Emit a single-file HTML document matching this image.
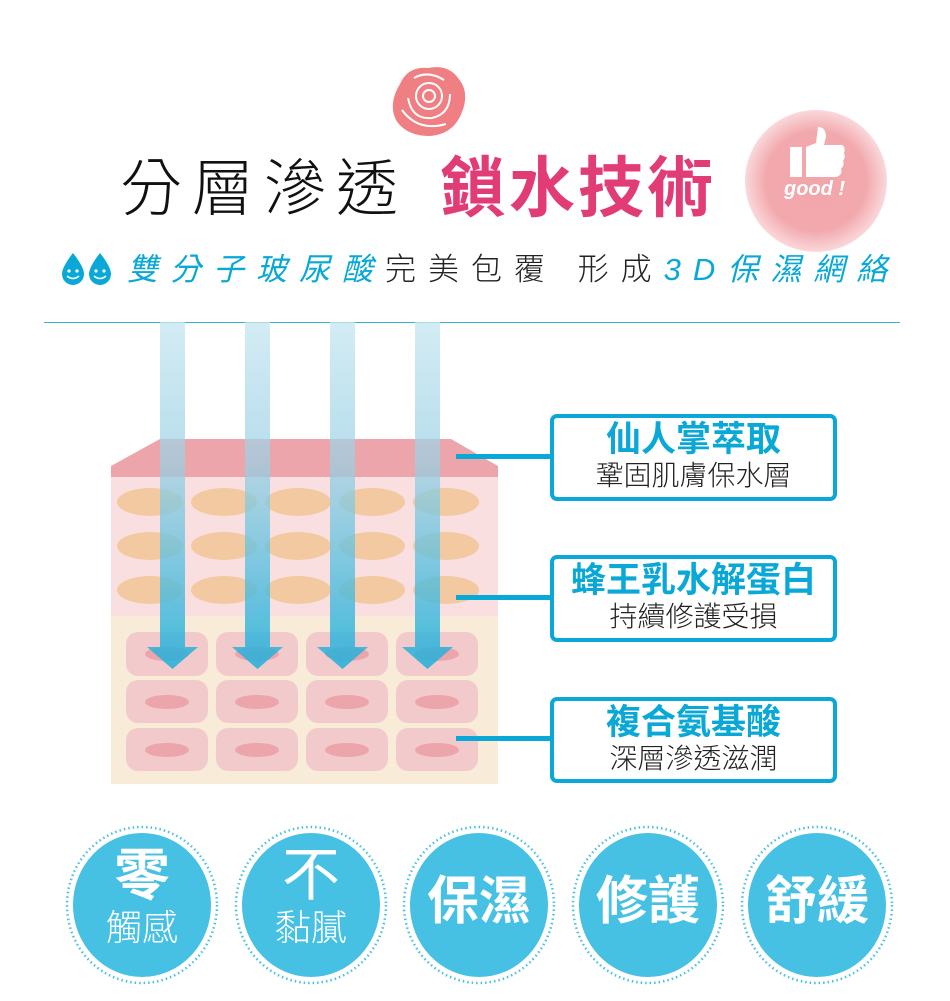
<!DOCTYPE html>
<html><head><meta charset="utf-8"><style>
html,body{margin:0;padding:0;background:#fff;width:950px;height:1001px;overflow:hidden;position:relative;font-family:"Liberation Sans","Noto Sans CJK TC",sans-serif}
.abs{position:absolute;white-space:nowrap}
.box{position:absolute;left:550px;width:279px;border:4px solid #0aa8d6;border-radius:7px;background:#fff;text-align:center}
.box .a{color:#0aa8d6;font-size:35px;font-weight:bold;line-height:40px;margin-top:2px}
.box .b{color:#222;font-size:28px;font-weight:300;line-height:32px}
</style></head><body>
<!-- rose -->
<svg class="abs" style="left:388px;top:64px" width="82" height="74" viewBox="0 0 82 74">
<path d="M12 20 Q20 2 40 4 Q60 0 70 14 Q82 28 74 48 Q66 70 42 72 Q18 72 8 56 Q0 40 12 20Z" fill="#ef7f82"/>
<g fill="none" stroke="#fff" stroke-width="2">
<circle cx="41" cy="32" r="6"/><circle cx="41" cy="32" r="13"/>
<path d="M20 34 Q24 56 44 54 Q62 50 62 30"/><path d="M14 46 Q30 68 58 60"/><path d="M26 14 Q40 6 56 16"/>
</g></svg>
<!-- title -->
<div class="abs" style="left:120px;top:152px;font-size:62px;font-weight:300;color:#111;letter-spacing:10px;line-height:76px">分層滲透</div>
<div class="abs" style="left:440px;top:150px;font-size:66px;font-weight:bold;color:#e23c77;letter-spacing:3px;line-height:76px">鎖水技術</div>
<!-- good badge -->
<div class="abs" style="left:745px;top:110px;width:142px;height:142px;border-radius:50%;background:radial-gradient(circle,#f1a5aa 0%,#f2a9ad 50%,rgba(246,190,194,0.55) 72%,rgba(255,255,255,0) 100%)"></div>
<svg class="abs" style="left:788px;top:125px" width="60" height="55" viewBox="0 0 60 55">
<rect x="2" y="22" width="12" height="30" fill="#fff"/>
<path d="M18 22 L28 18 L30 2 Q38 2 38 12 L36 20 L54 20 Q58 22 56 28 Q58 32 55 36 Q57 40 53 44 Q55 50 48 52 L18 52Z" fill="#fff"/>
</svg>
<div class="abs" style="left:784px;top:178px;font-size:20px;font-weight:bold;font-style:italic;color:#fff">good !</div>
<!-- subtitle -->
<svg class="abs" style="left:58px;top:251px" width="60" height="35" viewBox="0 0 60 35">
<path d="M15 2 Q4 16 4 23 A11 11 0 0 0 26 23 Q26 16 15 2Z" fill="#0aa8d6"/>
<path d="M42 2 Q31 16 31 23 A11 11 0 0 0 53 23 Q53 16 42 2Z" fill="#0aa8d6"/>
<g fill="#fff"><circle cx="11" cy="20" r="1.6"/><circle cx="19" cy="20" r="1.6"/><circle cx="38" cy="20" r="1.6"/><circle cx="46" cy="20" r="1.6"/></g>
<g fill="none" stroke="#fff" stroke-width="1.5"><path d="M9 25 Q15 30 21 25"/><path d="M36 25 Q42 30 48 25"/></g>
</svg>
<div class="abs" style="left:127px;top:250px;font-size:31px;letter-spacing:12px;line-height:40px"><i style="color:#0aa8d6">雙分子玻尿酸</i><span style="color:#222;font-weight:300">完美包覆 形成</span><i style="color:#0aa8d6">3D保濕網絡</i></div>
<div class="abs" style="left:44px;top:322px;width:856px;height:1px;background:#3ab0d4"></div>
<!-- diagram -->
<svg class="abs" style="left:0;top:0" width="950" height="800" viewBox="0 0 950 800">
<defs><linearGradient id="g" x1="0" y1="322" x2="0" y2="670" gradientUnits="userSpaceOnUse">
<stop offset="0" stop-color="#c6e6f1" stop-opacity="0.9"/><stop offset="0.4" stop-color="#9bd1e4" stop-opacity="0.85"/><stop offset="1" stop-color="#1bafdb"/></linearGradient></defs>
<rect x="111" y="616" width="387" height="168" fill="#f8ecd8"/>
<rect x="111" y="477" width="387" height="139" fill="#f9dfe0"/>
<polygon points="160,439 451,439 498,466 498,477 111,477 111,466" fill="#eca5aa"/>
<g fill="#f2c9a0">
<ellipse cx="150" cy="502" rx="33" ry="14"/><ellipse cx="224" cy="502" rx="33" ry="14"/><ellipse cx="298" cy="502" rx="33" ry="14"/><ellipse cx="372" cy="502" rx="33" ry="14"/><ellipse cx="446" cy="502" rx="33" ry="14"/>
<ellipse cx="150" cy="546" rx="33" ry="14"/><ellipse cx="224" cy="546" rx="33" ry="14"/><ellipse cx="298" cy="546" rx="33" ry="14"/><ellipse cx="372" cy="546" rx="33" ry="14"/><ellipse cx="446" cy="546" rx="33" ry="14"/>
<ellipse cx="150" cy="590" rx="33" ry="14"/><ellipse cx="224" cy="590" rx="33" ry="14"/><ellipse cx="298" cy="590" rx="33" ry="14"/><ellipse cx="372" cy="590" rx="33" ry="14"/><ellipse cx="446" cy="590" rx="33" ry="14"/>
</g>
<g fill="#f2cacb">
<rect x="126" y="632" width="82" height="44" rx="12"/><rect x="216" y="632" width="82" height="44" rx="12"/><rect x="306" y="632" width="82" height="44" rx="12"/><rect x="396" y="632" width="82" height="44" rx="12"/>
<rect x="126" y="680" width="82" height="43" rx="12"/><rect x="216" y="680" width="82" height="43" rx="12"/><rect x="306" y="680" width="82" height="43" rx="12"/><rect x="396" y="680" width="82" height="43" rx="12"/>
<rect x="126" y="728" width="82" height="43" rx="12"/><rect x="216" y="728" width="82" height="43" rx="12"/><rect x="306" y="728" width="82" height="43" rx="12"/><rect x="396" y="728" width="82" height="43" rx="12"/>
</g>
<g fill="#eca5aa">
<ellipse cx="167" cy="654" rx="22" ry="7"/><ellipse cx="257" cy="654" rx="22" ry="7"/><ellipse cx="347" cy="654" rx="22" ry="7"/><ellipse cx="437" cy="654" rx="22" ry="7"/>
<ellipse cx="167" cy="702" rx="22" ry="7"/><ellipse cx="257" cy="702" rx="22" ry="7"/><ellipse cx="347" cy="702" rx="22" ry="7"/><ellipse cx="437" cy="702" rx="22" ry="7"/>
<ellipse cx="167" cy="750" rx="22" ry="7"/><ellipse cx="257" cy="750" rx="22" ry="7"/><ellipse cx="347" cy="750" rx="22" ry="7"/><ellipse cx="437" cy="750" rx="22" ry="7"/>
</g>
<g fill="url(#g)" fill-opacity="0.85">
<polygon points="160,322 185,322 185,647 198,647 172.5,669 147,647 160,647"/>
<polygon points="245,322 270,322 270,647 283,647 257.5,669 232,647 245,647"/>
<polygon points="330,322 355,322 355,647 368,647 342.5,669 317,647 330,647"/>
<polygon points="415,322 440,322 440,647 453,647 427.5,669 402,647 415,647"/>
</g>
<g fill="#0aa8d6"><rect x="456" y="454" width="96" height="5"/><rect x="456" y="595" width="96" height="5"/><rect x="456" y="736" width="96" height="5"/></g>
</svg>
<div class="box" style="top:414px;height:79px"><div class="a">仙人掌萃取</div><div class="b">鞏固肌膚保水層</div></div>
<div class="box" style="top:555px;height:79px"><div class="a">蜂王乳水解蛋白</div><div class="b">持續修護受損</div></div>
<div class="box" style="top:697px;height:78px"><div class="a">複合氨基酸</div><div class="b">深層滲透滋潤</div></div>
<!-- circles -->
<svg class="abs" style="left:0;top:820px" width="950" height="181" viewBox="0 820 950 181">
<g fill="#46c0e3"><ellipse cx="142" cy="905" rx="69" ry="72"/><ellipse cx="311" cy="905" rx="69" ry="72"/><ellipse cx="479" cy="905" rx="69" ry="72"/><ellipse cx="648" cy="905" rx="69" ry="72"/><ellipse cx="817" cy="905" rx="69" ry="72"/></g>
<g fill="none" stroke="#46c0e3" stroke-width="2.5" stroke-dasharray="1.5 3"><ellipse cx="142" cy="905" rx="75" ry="78"/><ellipse cx="311" cy="905" rx="75" ry="78"/><ellipse cx="479" cy="905" rx="75" ry="78"/><ellipse cx="648" cy="905" rx="75" ry="78"/><ellipse cx="817" cy="905" rx="75" ry="78"/></g>
</svg>
<div class="abs" style="left:92px;top:846px;width:100px;text-align:center;color:#fff;font-size:56px;font-weight:bold;line-height:60px">零</div>
<div class="abs" style="left:92px;top:906px;width:100px;text-align:center;color:#fff;font-size:36px;font-weight:300;line-height:44px">觸感</div>
<div class="abs" style="left:261px;top:846px;width:100px;text-align:center;color:#fff;font-size:58px;line-height:60px">不</div>
<div class="abs" style="left:261px;top:906px;width:100px;text-align:center;color:#fff;font-size:36px;font-weight:300;line-height:44px">黏膩</div>
<div class="abs" style="left:409px;top:872px;width:140px;text-align:center;color:#fff;font-size:52px;font-weight:bold;line-height:60px">保濕</div>
<div class="abs" style="left:578px;top:872px;width:140px;text-align:center;color:#fff;font-size:52px;font-weight:bold;line-height:60px">修護</div>
<div class="abs" style="left:747px;top:872px;width:140px;text-align:center;color:#fff;font-size:52px;font-weight:bold;line-height:60px">舒緩</div>
</body></html>
